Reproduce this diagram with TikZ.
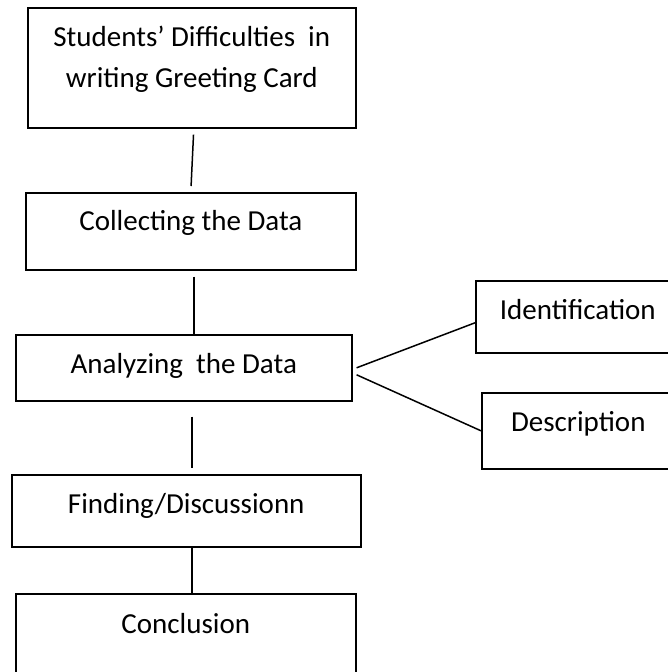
\documentclass[tikz,border=0pt]{standalone}
\usepackage{fontspec}
\setmainfont{Carlito}
\begin{document}
\begin{tikzpicture}[
    x=1pt, y=-1pt,
    box/.style={rectangle, draw, line width=1.6pt, inner sep=0pt, anchor=north west, align=center, font=\fontsize{29}{41}\selectfont},
    link/.style={line width=1.5pt}
  ]
  \useasboundingbox (0,0) rectangle (668,672);
  \clip (0,0) rectangle (668,672);

  \node[box, minimum width=328pt, minimum height=120pt, text height=80pt, text depth=40pt] (topic)   at (27,7)    {Students’ Difficulties~ in\\writing Greeting Card};
  \node[box, minimum width=330pt, minimum height=77pt,  text height=38pt, text depth=39pt] (collect) at (25,192)  {Collecting the Data};
  \node[box, minimum width=336pt, minimum height=66pt,  text height=39pt, text depth=27pt] (analyze) at (15,334)  {Analyzing~ the Data};
  \node[box, minimum width=349pt, minimum height=72pt,  text height=39pt, text depth=33pt] (finding) at (11,474)  {Finding/Discussionn};
  \node[box, minimum width=340pt, minimum height=87pt,  text height=40pt, text depth=47pt] (concl)   at (15,593)  {Conclusion};
  \node[box, minimum width=204pt, minimum height=72pt,  text height=39pt, text depth=33pt] (ident)   at (475,280) {Identification};
  \node[box, minimum width=193pt, minimum height=76pt,  text height=39pt, text depth=37pt] (descr)   at (481,392) {Description};

  \draw[link, shorten <=6pt, shorten >=6pt] ([xshift=2pt]topic.south) -- (collect.north);
  \draw[link, shorten <=6pt] ([xshift=3pt]collect.south) -- ([xshift=3pt]collect.south |- analyze.north);
  \draw[link, shorten <=15pt, shorten >=6pt] ([xshift=8pt]analyze.south) -- ([xshift=8pt]analyze.south |- finding.north);
  \draw[link] ([xshift=5.5pt]finding.south) -- ([xshift=5.5pt]finding.south |- concl.north);

  % branches
  \draw[link] ([xshift=4pt]analyze.east) -- ([yshift=-6pt]ident.west);
  \draw[link] ([xshift=4pt, yshift=-7pt]analyze.east) -- (descr.west);
\end{tikzpicture}
\end{document}
